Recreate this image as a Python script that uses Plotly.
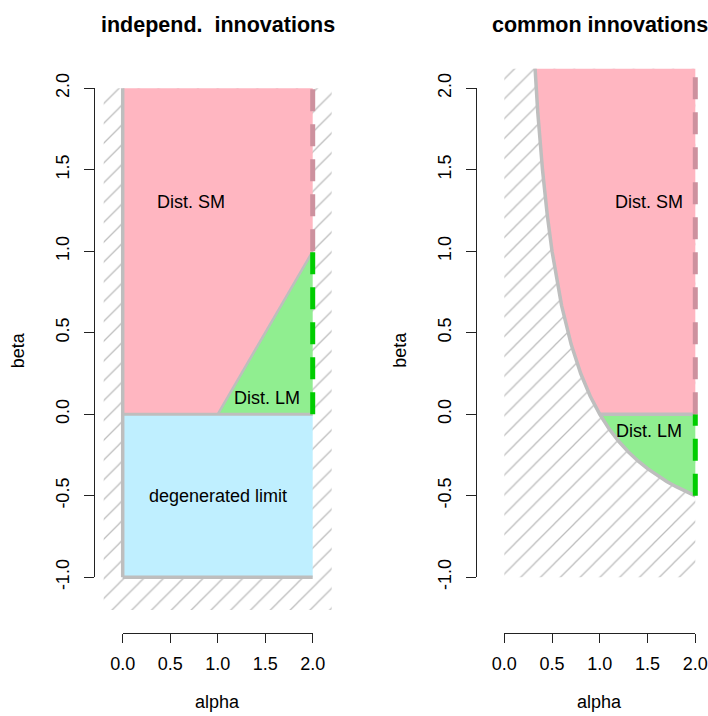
import plotly.graph_objects as go

# ---------------- data ----------------
x_ticks = [0.0, 0.5, 1.0, 1.5, 2.0]
x_tick_labels = ["0.0", "0.5", "1.0", "1.5", "2.0"]
y_ticks = [-1.0, -0.5, 0.0, 0.5, 1.0, 1.5, 2.0]
y_tick_labels = ["-1.0", "-0.5", "0.0", "0.5", "1.0", "1.5", "2.0"]

# left panel (independent innovations) regions
L_hatch_alpha = [-0.2, 2.2, 2.2, -0.2]
L_hatch_beta = [-1.2, -1.2, 2.0, 2.0]
L_sm_alpha = [0.0, 1.0, 2.0, 2.0, 0.0]
L_sm_beta = [0.0, 0.0, 1.0, 2.0, 2.0]
L_lm_alpha = [1.0, 2.0, 2.0]
L_lm_beta = [0.0, 0.0, 1.0]
L_deg_alpha = [0.0, 2.0, 2.0, 0.0]
L_deg_beta = [-1.0, -1.0, 0.0, 0.0]

# right panel (common innovations) boundary curve
R_curve_alpha = [0.30, 0.32, 0.35, 0.40, 0.45, 0.50, 0.60, 0.70, 0.80, 0.90, 1.00,
                 1.10, 1.20, 1.30, 1.40, 1.50, 1.60, 1.70, 1.80, 1.90, 2.00]
R_curve_beta = [2.333, 2.125, 1.857, 1.500, 1.222, 1.000, 0.667, 0.429, 0.250, 0.111, 0.000,
                -0.091, -0.167, -0.231, -0.286, -0.333, -0.375, -0.412, -0.444, -0.474, -0.500]
R_hatch_alpha = [0.0, 2.0, 2.0, 0.0]
R_hatch_beta = [-1.0, -1.0, 2.5, 2.5]
R_top_beta = 2.5

labels_left = [("Dist. SM", 0.72, 1.30), ("Dist. LM", 1.52, 0.10), ("degenerated limit", 1.0, -0.5)]
labels_right = [("Dist. SM", 1.52, 1.30), ("Dist. LM", 1.52, -0.10)]

titles = ["independ.\u00a0 innovations", "common innovations"]

# ---------------- styles ----------------
PINK = "#FFB6C1"
GREEN = "#90EE90"
BLUE = "#BFEFFF"
GRAY = "#BEBEBE"
PINK_D = "#CD919E"
GREEN_D = "#00CD00"
FONT = "Liberation Sans, Arial, Helvetica, sans-serif"

# figure fills the whole window (body margin removed in post_script)
W, H = 708, 716
def fx(p): return p / W
def fy(p): return 1 - p / H

# pixel anchors (window coordinates)
Y0, Y2 = 414.3, 88.3  # beta = 0, beta = 2
ys = (Y0 - Y2) / 2.0
panels = [dict(x0=122.7, x2=312.7, xr=[-0.25, 2.25], yax=94.3),
          dict(x0=504.3, x2=695.3, xr=[-0.1, 2.1], yax=475.7)]
yr = [-1.25, 2.12]

fig = go.Figure()

def add_poly(ax, xs, ysv, color, pattern=None):
    kw = {}
    if pattern:
        kw["fillpattern"] = dict(shape="/", size=14, solidity=0.09, fgcolor="#BDBDBD", bgcolor="white")
    fig.add_trace(go.Scatter(x=xs, y=ysv, fill="toself", fillcolor=color, mode="lines",
                             line=dict(width=0), hoverinfo="skip", showlegend=False,
                             xaxis=ax[0], yaxis=ax[1], **kw))

def add_line(ax, xs, ysv, color, width, dash="solid"):
    fig.add_trace(go.Scatter(x=xs, y=ysv, mode="lines", line=dict(color=color, width=width, dash=dash),
                             hoverinfo="skip", showlegend=False, xaxis=ax[0], yaxis=ax[1]))

DASH = "22px,13px"

# ---- left panel ----
axL = ("x", "y")
add_poly(axL, L_hatch_alpha, L_hatch_beta, "white", pattern=True)
add_poly(axL, L_sm_alpha, L_sm_beta, PINK)
add_poly(axL, L_lm_alpha, L_lm_beta, GREEN)
add_poly(axL, L_deg_alpha, L_deg_beta, BLUE)
add_line(axL, [L_deg_alpha[0], L_deg_alpha[0]], [L_deg_beta[0], L_sm_beta[-1]], GRAY, 3.5)
add_line(axL, [L_deg_alpha[0], L_deg_alpha[1]], [L_deg_beta[0], L_deg_beta[1]], GRAY, 3.5)
add_line(axL, [L_sm_alpha[0], L_lm_alpha[1]], [L_sm_beta[0], L_lm_beta[1]], GRAY, 3)
add_line(axL, [L_lm_alpha[0], L_lm_alpha[2]], [L_lm_beta[0], L_lm_beta[2]], GRAY, 2.5)
add_line(axL, [L_lm_alpha[1], L_lm_alpha[2]], [L_lm_beta[1], L_lm_beta[2]], GREEN_D, 5, DASH)
add_line(axL, [L_sm_alpha[2], L_sm_alpha[3]], [L_sm_beta[2], L_sm_beta[3]], PINK_D, 5, DASH)

# ---- right panel ----
axR = ("x2", "y2")
add_poly(axR, R_hatch_alpha, R_hatch_beta, "white", pattern=True)
sm_x = [a for a, b in zip(R_curve_alpha, R_curve_beta) if b >= 0] + [2.0, 2.0, R_curve_alpha[0]]
sm_y = [b for b in R_curve_beta if b >= 0] + [0.0, R_top_beta, R_top_beta]
add_poly(axR, sm_x, sm_y, PINK)
lm_x = [a for a, b in zip(R_curve_alpha, R_curve_beta) if b <= 0] + [2.0]
lm_y = [b for b in R_curve_beta if b <= 0] + [0.0]
add_poly(axR, lm_x, lm_y, GREEN)
add_line(axR, R_curve_alpha, R_curve_beta, GRAY, 3.5)
add_line(axR, [1.0, 2.0], [0.0, 0.0], GRAY, 3.5)
add_line(axR, [2.0, 2.0], [R_curve_beta[-1], 0.0], GREEN_D, 5, DASH)
add_line(axR, [2.0, 2.0], [0.0, R_top_beta], PINK_D, 5, DASH)

# ---- decor axes subplots (R-style detached axes) ----
for i in range(2):
    fig.add_trace(go.Scatter(x=[x_ticks[0], x_ticks[-1]], y=[y_ticks[0], y_ticks[-1]], mode="markers",
                             marker=dict(opacity=0, size=1), hoverinfo="skip", showlegend=False,
                             xaxis=f"x{i+3}", yaxis=f"y{i+3}"))

layout = dict(template="none", width=W, height=H, margin=dict(l=0, r=0, t=0, b=0, pad=0, autoexpand=False),
              paper_bgcolor="white", plot_bgcolor="rgba(0,0,0,0)", showlegend=False,
              font=dict(family=FONT, size=18, color="black"))

hidden = dict(showgrid=False, zeroline=False, showticklabels=False, ticks="", showline=False,
              fixedrange=True, automargin=False)
annotations = []
for i, p in enumerate(panels):
    xs_ = (p["x2"] - p["x0"]) / 2.0
    dx0 = p["x0"] + p["xr"][0] * xs_
    dx1 = p["x0"] + p["xr"][1] * xs_
    dy_top = Y0 - yr[1] * ys
    dy_bot = Y0 - yr[0] * ys
    xn = "xaxis" if i == 0 else "xaxis2"
    yn = "yaxis" if i == 0 else "yaxis2"
    layout[xn] = dict(hidden, range=p["xr"], domain=[fx(dx0), min(1.0, fx(dx1))], anchor="y" if i == 0 else "y2")
    layout[yn] = dict(hidden, range=yr, domain=[fy(dy_bot), fy(dy_top)], anchor="x" if i == 0 else "x2")
    # decor axes
    layout[f"xaxis{i+3}"] = dict(range=[x_ticks[0], x_ticks[-1]], domain=[fx(p["x0"]), fx(p["x2"])],
                                 anchor="free", position=fy(632.7), showgrid=False, zeroline=False,
                                 showline=True, linecolor="#222", linewidth=1, automargin=False,
                                 ticks="outside", ticklen=9, tickwidth=1, tickcolor="#222",
                                 tickvals=x_ticks, ticktext=x_tick_labels, ticklabelstandoff=6,
                                 tickfont=dict(size=18, family=FONT, color="black"), fixedrange=True)
    layout[f"yaxis{i+3}"] = dict(range=[y_ticks[0], y_ticks[-1]],
                                 domain=[fy(Y0 - y_ticks[0] * ys), fy(Y0 - y_ticks[-1] * ys)],
                                 anchor="free", position=fx(p["yax"]), showgrid=False, zeroline=False,
                                 showline=True, linecolor="#222", linewidth=1, automargin=False,
                                 ticks="outside", ticklen=10, tickwidth=1, tickcolor="#222",
                                 tickvals=y_ticks, ticktext=y_tick_labels, tickangle=-90, ticklabelstandoff=8,
                                 tickfont=dict(size=18, family=FONT, color="black"), fixedrange=True)
    cx = (p["x0"] + p["x2"]) / 2.0
    annotations.append(dict(text=f"<b>{titles[i]}</b>", x=fx(cx), y=fy(25), xref="paper", yref="paper",
                            showarrow=False, xanchor="center", yanchor="middle",
                            font=dict(size=21.5, family=FONT, color="black")))
    annotations.append(dict(text="alpha", x=fx(cx), y=fy(702), xref="paper", yref="paper",
                            showarrow=False, xanchor="center", yanchor="middle",
                            font=dict(size=18, family=FONT, color="black")))
    annotations.append(dict(text="beta", x=fx(p["yax"] - 76), y=fy(350), xref="paper", yref="paper",
                            showarrow=False, xanchor="center", yanchor="middle", textangle=-90,
                            font=dict(size=18, family=FONT, color="black")))
    labs = labels_left if i == 0 else labels_right
    for t, lx, ly in labs:
        annotations.append(dict(text=t, x=lx, y=ly, xref="x" if i == 0 else "x2", yref="y" if i == 0 else "y2",
                                showarrow=False, xanchor="center", yanchor="middle",
                                font=dict(size=18, family=FONT, color="black")))

layout["annotations"] = annotations
fig.update_layout(**layout)
fig.write_html("out.html", config={"displayModeBar": False, "staticPlot": True},
               post_script="document.documentElement.style.overflow='hidden';"
                           "document.body.style.margin='0';document.body.style.overflow='hidden';")
